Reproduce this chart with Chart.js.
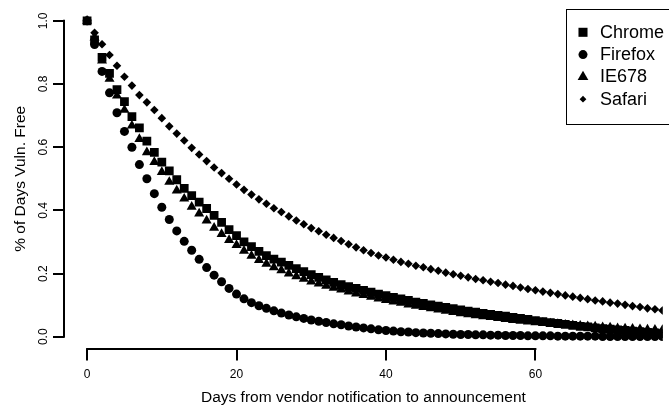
<!DOCTYPE html>
<html><head><meta charset="utf-8">
<script src="https://cdn.jsdelivr.net/npm/chart.js@4.4.0/dist/chart.umd.min.js"></script>
<style>html,body{margin:0;padding:0;background:#fff;} canvas{display:block;}</style>
</head><body>
<canvas id="c" width="669" height="409"></canvas>
<script>
const days = [0,1,2,3,4,5,6,7,8,9,10,11,12,13,14,15,16,17,18,19,20,21,22,23,24,25,26,27,28,29,30,31,32,33,34,35,36,37,38,39,40,41,42,43,44,45,46,47,48,49,50,51,52,53,54,55,56,57,58,59,60,61,62,63,64,65,66,67,68,69,70,71,72,73,74,75,76,77];

const chrome = [1.0,0.94,0.884,0.834,0.782,0.744,0.697,0.661,0.619,0.584,
0.553,0.525,0.497,0.47,0.447,0.426,0.406,0.384,0.362,0.339,
0.32,0.3,0.285,0.27,0.257,0.246,0.236,0.226,0.216,0.206,
0.197,0.188,0.18,0.172,0.165,0.159,0.153,0.147,0.141,0.135,
0.13,0.125,0.12,0.115,0.11,0.106,0.101,0.097,0.093,0.089,
0.085,0.081,0.078,0.074,0.071,0.068,0.065,0.061,0.058,0.055,
0.051,0.048,0.045,0.042,0.039,0.036,0.033,0.031,0.028,0.026,
0.024,0.022,0.02,0.018,0.016,0.014,0.012,0.01];

const firefox = [1.0,0.925,0.84,0.772,0.709,0.65,0.6,0.545,0.5,0.453,
0.41,0.371,0.335,0.302,0.274,0.245,0.219,0.195,0.174,0.153,
0.135,0.12,0.108,0.098,0.09,0.082,0.075,0.069,0.063,0.058,
0.053,0.049,0.045,0.041,0.038,0.034,0.031,0.028,0.025,0.022,
0.02,0.018,0.016,0.015,0.013,0.012,0.011,0.01,0.009,0.008,
0.007,0.007,0.006,0.006,0.005,0.005,0.004,0.004,0.004,0.003,
0.003,0.003,0.003,0.002,0.002,0.002,0.002,0.002,0.002,0.001,
0.001,0.001,0.001,0.001,0.001,0.001,0.001,0.001];

const ie678 = [1.0,0.947,0.874,0.816,0.763,0.718,0.668,0.626,0.584,0.553,
0.521,0.49,0.463,0.437,0.411,0.39,0.368,0.345,0.325,0.306,
0.29,0.272,0.256,0.243,0.231,0.22,0.21,0.2,0.191,0.183,
0.175,0.168,0.161,0.155,0.149,0.143,0.137,0.132,0.126,0.121,
0.116,0.111,0.107,0.102,0.098,0.094,0.09,0.086,0.082,0.078,
0.074,0.071,0.068,0.065,0.062,0.059,0.056,0.053,0.05,0.048,
0.046,0.044,0.042,0.04,0.038,0.036,0.035,0.033,0.032,0.03,
0.029,0.027,0.026,0.025,0.024,0.023,0.022,0.021];

const safari = [1.0,0.962,0.926,0.892,0.858,0.823,0.795,0.765,0.742,0.718,
0.692,0.666,0.643,0.621,0.598,0.577,0.556,0.536,0.518,0.5,
0.482,0.465,0.45,0.435,0.421,0.407,0.395,0.381,0.368,0.356,
0.344,0.334,0.323,0.313,0.303,0.293,0.283,0.274,0.265,0.257,
0.251,0.244,0.237,0.231,0.225,0.22,0.214,0.209,0.203,0.198,
0.193,0.188,0.183,0.179,0.174,0.17,0.165,0.161,0.156,0.151,
0.147,0.143,0.139,0.135,0.131,0.127,0.123,0.119,0.115,0.112,
0.108,0.105,0.101,0.097,0.094,0.09,0.087,0.083];

const seriesNames = ['Chrome','Firefox','IE678','Safari'];
const xTicks = [0,20,40,60];
const xTickLabels = ['0','20','40','60'];
const yTicks = [0,0.2,0.4,0.6,0.8,1.0];
const yTickLabels = ['0.0','0.2','0.4','0.6','0.8','1.0'];
const xTitle = 'Days from vendor notification to announcement';
const yTitle = '% of Days Vuln. Free';

const FONT = "'Liberation Sans', Arial, Helvetica, sans-serif";
const LW = 2;

function pts(vals){ return days.map((d,i)=>({x:d, y:vals[i]})); }

const styles = [
  {pointStyle:'rect', radius:6.2, legendRadius:6.4, order:4},
  {pointStyle:'circle', radius:4.5, legendRadius:4.5, order:3},
  {pointStyle:'triangle', radius:5.8, legendRadius:6.2, order:2},
  {pointStyle:'rectRot', radius:4.3, legendRadius:3.4, order:1}
];
const seriesVals = [chrome, firefox, ie678, safari];

const datasets = seriesNames.map((n,i)=>({
  label:n, data:pts(seriesVals[i]), showLine:false,
  pointStyle:styles[i].pointStyle, pointRadius:styles[i].radius, pointHoverRadius:styles[i].radius,
  pointBackgroundColor:'#000', pointBorderColor:'#000', pointBorderWidth:0,
  order:styles[i].order, legendRadius:styles[i].legendRadius
}));

const axisLines = {
  id:'axisLines',
  afterDraw(chart){
    const {ctx, chartArea, scales:{x,y}} = chart;
    ctx.save();
    ctx.strokeStyle='#000'; ctx.lineWidth=LW; ctx.lineCap='butt';
    ctx.beginPath();
    const xl = Math.round(chartArea.left);
    ctx.moveTo(xl, y.getPixelForValue(yTicks[0]) + LW/2);
    ctx.lineTo(xl, y.getPixelForValue(yTicks[yTicks.length-1]) - LW/2);
    const yb = Math.round(chartArea.bottom);
    ctx.moveTo(x.getPixelForValue(xTicks[0]) - LW/2, yb);
    ctx.lineTo(x.getPixelForValue(xTicks[xTicks.length-1]) + LW/2, yb);
    ctx.stroke();
    ctx.restore();
  }
};

const legendBox = {
  id:'legendBox',
  afterDraw(chart){
    const ctx = chart.ctx;
    ctx.save();
    ctx.strokeStyle='#000'; ctx.lineWidth=1;
    ctx.strokeRect(566.5, 9.5, 140, 115);
    ctx.fillStyle='#000';
    ctx.font = "18px " + FONT;
    ctx.textBaseline='middle'; ctx.textAlign='left';
    chart.data.datasets.forEach((ds,i)=>{
      const cy = 32.3 + i*22.3;
      ctx.fillStyle='#000';
      Chart.helpers.drawPoint(ctx, {pointStyle:ds.pointStyle, radius:ds.legendRadius, borderWidth:0, rotation:0}, 583, cy);
      ctx.fillText(ds.label, 600, cy+0.5);
    });
    ctx.restore();
  }
};

new Chart(document.getElementById('c'), {
  type:'scatter',
  data:{datasets},
  options:{
    responsive:false, animation:false, devicePixelRatio:1,
    layout:{padding:{top:7.3,left:0,right:0,bottom:0}},
    plugins:{legend:{display:false}, tooltip:{enabled:false}},
    scales:{
      x:{
        type:'linear', min:-3.09, max:77.05,
        afterBuildTicks:s=>{ s.ticks = xTicks.map(v=>({value:v})); },
        afterFit:s=>{ s.height = 59.6; },
        border:{display:false},
        grid:{drawOnChartArea:false, drawTicks:true, tickLength:11, color:'#000', lineWidth:LW},
        ticks:{autoSkip:false, maxRotation:0, minRotation:0, color:'#000', font:{family:FONT,size:12}, padding:7, callback:(v,i)=>xTickLabels[i]},
        title:{display:true, text:xTitle, color:'#000', font:{family:FONT,size:15.5}, padding:{top:0,bottom:2.4}}
      },
      y:{
        type:'linear', min:-0.04, max:1.04,
        afterBuildTicks:s=>{ s.ticks = yTicks.map(v=>({value:v})); },
        afterFit:s=>{ s.width = 64; },
        border:{display:false},
        grid:{drawOnChartArea:false, drawTicks:true, tickLength:11, color:'#000', lineWidth:LW},
        ticks:{autoSkip:false, minRotation:90, maxRotation:90, crossAlign:'center', color:'#000', font:{family:FONT,size:12}, padding:1, callback:(v,i)=>yTickLabels[i]},
        title:{display:true, text:yTitle, color:'#000', font:{family:FONT,size:15.5}, padding:{top:11.3,bottom:0}}
      }
    }
  },
  plugins:[axisLines, legendBox]
});
</script>
</body></html>
